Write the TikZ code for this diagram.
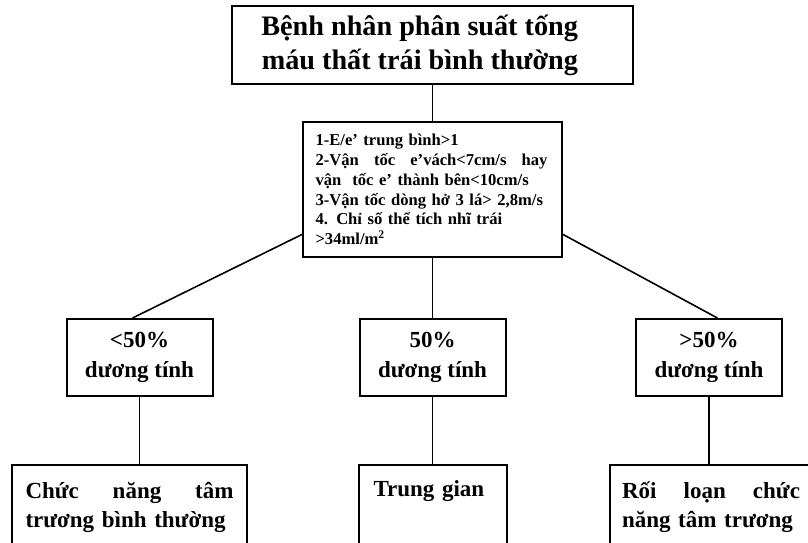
\documentclass[tikz,border=0pt]{standalone}
\usepackage{fontspec}
\setmainfont{Liberation Serif}
\newcommand{\dan}[2]{\makebox[#1][s]{\spaceskip=.3333em plus 1fil\relax #2}}

\begin{document}
\begin{tikzpicture}[x=1pt, y=-1pt, line width=1.6pt,
	khung/.style={draw, line width=2pt, inner sep=0pt},
	dau/.style={khung, minimum width=401pt, minimum height=78pt, font=\bfseries\fontsize{28.2}{34}\selectfont},
	tieuchi/.style={khung, minimum width=259pt, minimum height=135pt, text width=234pt, align=left, font=\bfseries\fontsize{16.6}{19.8}\selectfont},
	tyle/.style={khung, minimum width=146pt, minimum height=77pt, align=center, font=\bfseries\fontsize{23}{30}\selectfont},
	ketqua/.style={khung, minimum height=84pt, align=left, font=\bfseries\fontsize{23}{29}\selectfont}]
	\clip (0,0) rectangle (808,542);
	\node[dau] (bn) at (432.5,45) {\hspace*{-39pt}\parbox{330pt}{\raggedleft Bệnh nhân phân suất tống\\máu thất trái bình thường}};
	\node[tieuchi] (tc) at (432.5,189.5) {1-E/e' trung bình>1\\
		\dan{232pt}{2-Vận tốc e’vách<7cm/s hay}\\
		vận\ \ tốc e’ thành bên<10cm/s\\
		3-Vận tốc dòng hở 3 lá> 2,8m/s\\
		4. Chỉ số thể tích nhĩ trái\\
		>34ml/m\textsuperscript{2}};
	\node[tyle] (p1) at (139.5,357.5) {<50\%\\dương tính};
	\node[tyle] (p2) at (432.5,357.5) {50\%\\dương tính};
	\node[tyle] (p3) at (709,357.5) {>50\%\\dương tính};
	\node[ketqua, minimum width=235pt, text width=208pt] (k1) at (129.5,507) {\dan{208pt}{Chức năng tâm}\\trương bình thường};
	\node[ketqua, minimum width=148pt, text width=118pt] (k2) at (432.5,507) {Trung gian\\\strut};
	\node[ketqua, minimum width=240pt, text width=216pt] (k3) at (730,507) {\dan{178pt}{Rối loạn chức}\\năng tâm trương};
	\draw (bn.south)--(tc.north);
	\draw (tc.199)--(p1.100);
	\draw (tc.south)--(p2.north);
	\draw (tc.341)--(p3.78);
	\draw (p1.south)--(p1.south |- k1.north);
	\draw (p2.south)--(k2.north);
	\draw (p3.south)--(p3.south |- k3.north);
\end{tikzpicture}
\end{document}
